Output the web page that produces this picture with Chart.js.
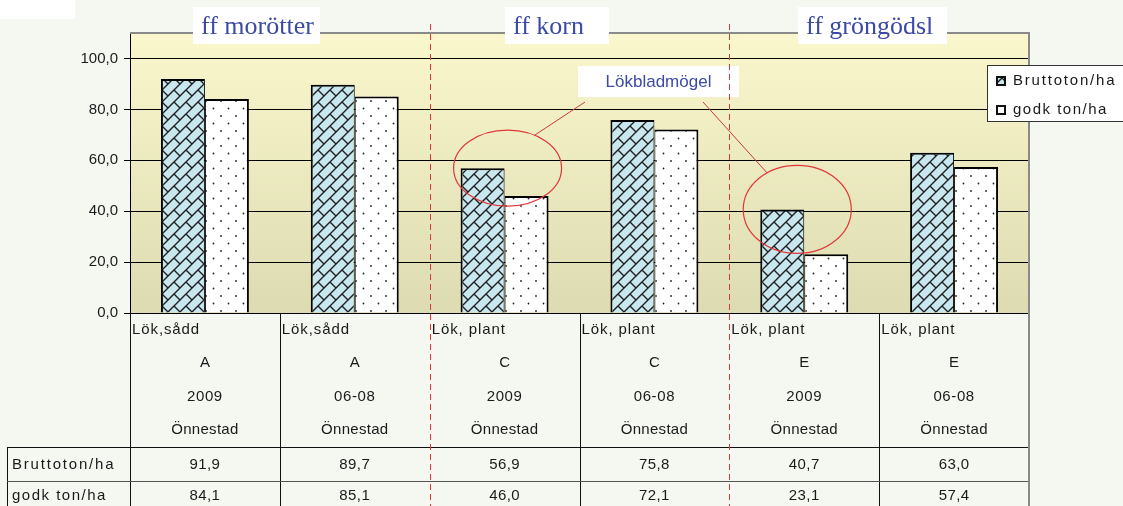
<!DOCTYPE html>
<html>
<head>
<meta charset="utf-8">
<script src="https://cdn.jsdelivr.net/npm/chart.js@4.4.1/dist/chart.umd.min.js"></script>
<style>
  html, body { margin: 0; padding: 0; background: #F4F8F1; }
  #wrap { position: relative; width: 1123px; height: 506px; overflow: hidden; }
  #corner { position: absolute; left: 0; top: 0; width: 75px; height: 19px; background: #fff; }
  canvas { position: absolute; left: 0; top: 0; }
</style>
</head>
<body>
<div id="wrap">
  <div id="corner"></div>
  <canvas id="chart" width="1123" height="506"></canvas>
</div>
<script>
// --- data ---
const cropType = ['Lök,sådd', 'Lök,sådd', 'Lök, plant', 'Lök, plant', 'Lök, plant', 'Lök, plant'];
const trial = ['A', 'A', 'C', 'C', 'E', 'E'];
const period = ['2009', '06-08', '2009', '06-08', '2009', '06-08'];
const site = ['Önnestad', 'Önnestad', 'Önnestad', 'Önnestad', 'Önnestad', 'Önnestad'];
const seriesNames = ['Bruttoton/ha', 'godk ton/ha'];
const brutto = [91.9, 89.7, 56.9, 75.8, 40.7, 63.0];
const godk = [84.1, 85.1, 46.0, 72.1, 23.1, 57.4];
const yTicks = [0, 20, 40, 60, 80, 100];
const groups = ['ff morötter', 'ff korn', 'ff gröngödsl'];
const noteText = 'Lökbladmögel';
const noteBars = [2, 4]; // categories circled by the note

const FONT = '"Liberation Sans", Arial, sans-serif';
const BLUE_TXT = '#3C4AA6';
const RED = '#E0383A';

// --- fill patterns ---
function makeBrick() {
    const c = document.createElement('canvas');
    c.width = 12; c.height = 12;
    const g = c.getContext('2d');
    g.fillStyle = '#C9E7EF';
    g.fillRect(0, 0, 12, 12);
    g.strokeStyle = '#1e1e1e';
    g.lineWidth = 1.4;
    g.beginPath();
    g.moveTo(-2, 14); g.lineTo(14, -2);
    g.moveTo(-2, 2); g.lineTo(2, -2);
    g.moveTo(10, 14); g.lineTo(14, 10);
    g.moveTo(6, 6); g.lineTo(12.5, 12.5);
    g.stroke();
    return g.createPattern(c, 'repeat');
}

function makeDots() {
    const c = document.createElement('canvas');
    c.width = 15; c.height = 15;
    const g = c.getContext('2d');
    g.fillStyle = '#fff';
    g.fillRect(0, 0, 15, 15);
    g.fillStyle = '#222';
    [[3.5, 3.5], [11, 11]].forEach(([x, y]) => {
        g.beginPath(); g.arc(x, y, 0.9, 0, Math.PI * 2); g.fill();
    });
    return g.createPattern(c, 'repeat');
}

const brickFill = makeBrick();
const dotFill = makeDots();

function txt(ctx, s, x, y, align, size, color, spacing) {
    ctx.font = size + 'px ' + FONT;
    ctx.fillStyle = color || '#1a1a1a';
    ctx.textAlign = align;
    ctx.textBaseline = 'middle';
    ctx.letterSpacing = (spacing || 0) + 'px';
    ctx.fillText(s, x, y);
    ctx.letterSpacing = '0px';
}

const decor = {
    id: 'decor',
    beforeDraw(chart) {
        const { ctx, chartArea: a } = chart;
        const grad = ctx.createLinearGradient(0, a.top, 0, a.bottom);
        grad.addColorStop(0, '#FAF7CD');
        grad.addColorStop(1, '#DDDBB1');
        ctx.save();
        ctx.fillStyle = grad;
        ctx.fillRect(a.left, a.top, a.right - a.left, a.bottom - a.top);
        ctx.restore();
    },
    afterDatasetsDraw(chart) {
        // red ellipses around the mildew-hit trials
        const { ctx } = chart;
        const x = chart.scales.x, y = chart.scales.y;
        const shape = [{ dx: 3, rx: 54, ry: 38, ang: -60 }, { dx: -7, rx: 54, ry: 44, ang: -124 }];
        const boxL = 578, boxR = 739, boxT = 66, boxB = 97;
        const from = [[585, boxB + 5], [703, boxB + 5]];
        ctx.save();
        noteBars.forEach((i, k) => {
            const s = shape[k];
            const cx = x.getPixelForValue(i) + s.dx;
            const cy = y.getPixelForValue(brutto[i]);
            ctx.strokeStyle = RED;
            ctx.lineWidth = 1.2;
            ctx.beginPath();
            ctx.ellipse(cx, cy, s.rx, s.ry, 0, 0, Math.PI * 2);
            ctx.stroke();
            const t = s.ang * Math.PI / 180;
            ctx.strokeStyle = '#C83A3C';
            ctx.lineWidth = 1;
            ctx.beginPath();
            ctx.moveTo(from[k][0], from[k][1]);
            ctx.lineTo(cx + s.rx * Math.cos(t), cy + s.ry * Math.sin(t));
            ctx.stroke();
        });
        // note label
        ctx.fillStyle = '#fff';
        ctx.fillRect(boxL, boxT, boxR - boxL, boxB - boxT);
        txt(ctx, noteText, (boxL + boxR) / 2, (boxT + boxB) / 2 + 1, 'center', 17, BLUE_TXT, 0);
        ctx.restore();
    },
    afterDraw(chart) {
        const { ctx, chartArea: a } = chart;
        const x = chart.scales.x;
        const n = cropType.length;
        const colW = (a.right - a.left) / n;
        const H = chart.height;
        const b = a.bottom;
        ctx.save();

        // data table grid
        ctx.strokeStyle = '#111';
        ctx.lineWidth = 1;
        for (let i = 0; i < n; i++) {
            if (i === 2 || i === 4) continue;
            const xx = Math.round(a.left + i * colW) + 0.5;
            ctx.beginPath(); ctx.moveTo(xx, b); ctx.lineTo(xx, H); ctx.stroke();
        }
        ctx.beginPath();
        ctx.moveTo(7.5, b + 134); ctx.lineTo(7.5, H);
        ctx.moveTo(7, b + 134.5); ctx.lineTo(a.right, b + 134.5);
        ctx.stroke();
        ctx.strokeStyle = '#555';
        ctx.beginPath();
        ctx.moveTo(7, b + 168.5); ctx.lineTo(a.right, b + 168.5);
        ctx.stroke();

        // table text
        for (let i = 0; i < n; i++) {
            const cx = x.getPixelForValue(i);
            const left = a.left + i * colW;
            txt(ctx, cropType[i], left + 2, b + 17, 'left', 15, '#1a1a1a', 0.9);
            txt(ctx, trial[i], cx, b + 50, 'center', 15, '#1a1a1a', 0);
            txt(ctx, period[i], cx, b + 84, 'center', 15, '#1a1a1a', 0.6);
            txt(ctx, site[i], cx, b + 117, 'center', 15, '#1a1a1a', 0.3);
            txt(ctx, brutto[i].toFixed(1).replace('.', ','), cx, b + 152, 'center', 15, '#1a1a1a', 0.4);
            txt(ctx, godk[i].toFixed(1).replace('.', ','), cx, b + 183, 'center', 15, '#1a1a1a', 0.4);
        }
        txt(ctx, seriesNames[0], 12, b + 152, 'left', 15, '#1a1a1a', 1.8);
        txt(ctx, seriesNames[1], 12, b + 183, 'left', 15, '#1a1a1a', 1.5);

        // plot frame top + right (runs down through the table)
        ctx.strokeStyle = '#8A8A8A';
        ctx.lineWidth = 2;
        ctx.beginPath();
        ctx.moveTo(a.left, a.top); ctx.lineTo(a.right + 1, a.top);
        ctx.moveTo(a.right, a.top); ctx.lineTo(a.right, H);
        ctx.stroke();

        // dashed group separators
        ctx.strokeStyle = RED;
        ctx.lineWidth = 1;
        ctx.setLineDash([6, 4]);
        [2, 4].forEach(i => {
            const xx = Math.round(a.left + i * colW) + 0.5;
            ctx.beginPath(); ctx.moveTo(xx, 24); ctx.lineTo(xx, H); ctx.stroke();
        });
        ctx.setLineDash([]);

        // group titles
        const titleLeft = [193, 505, 798];
        const titleWidth = [127, 104, 149];
        ctx.font = '26px "Liberation Serif", "Times New Roman", serif';
        groups.forEach((g, k) => {
            ctx.fillStyle = '#fff';
            ctx.fillRect(titleLeft[k], 7, titleWidth[k], 37);
            ctx.fillStyle = BLUE_TXT;
            ctx.textAlign = 'left';
            ctx.textBaseline = 'alphabetic';
            ctx.fillText(g, titleLeft[k] + 8, 34);
        });

        // legend
        ctx.fillStyle = '#fff';
        ctx.fillRect(987, 65, 140, 57);
        ctx.strokeStyle = '#333';
        ctx.lineWidth = 1;
        ctx.strokeRect(987.5, 65.5, 140, 56);
        const fills = [brickFill, dotFill];
        [81, 110].forEach((yy, k) => {
            ctx.fillStyle = '#111';
            ctx.fillRect(996, yy - 5, 10, 10);
            ctx.fillStyle = fills[k];
            ctx.fillRect(998, yy - 3, 6, 6);
            txt(ctx, seriesNames[k], 1013, yy, 'left', 15, '#1a1a1a', k === 0 ? 1.8 : 1.5);
        });
        ctx.restore();
    }
};

new Chart(document.getElementById('chart'), {
    type: 'bar',
    data: {
        labels: trial.map((t, i) => t + ' ' + period[i]),
        datasets: [
            {
                label: seriesNames[0],
                data: brutto,
                backgroundColor: brickFill,
                borderColor: '#000',
                borderWidth: { top: 2, left: 2, right: 1, bottom: 0 },
                categoryPercentage: 0.587,
                barPercentage: 1
            },
            {
                label: seriesNames[1],
                data: godk,
                backgroundColor: dotFill,
                borderColor: '#000',
                borderWidth: { top: 2, left: 1, right: 2, bottom: 0 },
                categoryPercentage: 0.587,
                barPercentage: 1
            }
        ]
    },
    options: {
        responsive: false,
        animation: false,
        devicePixelRatio: 1,
        layout: { padding: { top: 33, right: 94, bottom: 193, left: 0 } },
        plugins: { legend: { display: false }, tooltip: { enabled: false } },
        scales: {
            x: { display: false },
            y: {
                min: 0,
                max: 110,
                afterBuildTicks: s => { s.ticks = yTicks.map(v => ({ value: v })); },
                afterFit: s => { s.width = 130; },
                ticks: {
                    font: { family: FONT, size: 15 },
                    color: '#1a1a1a',
                    padding: 6,
                    callback: v => v.toFixed(1).replace('.', ',')
                },
                grid: { color: '#000', lineWidth: 1, tickLength: 6 },
                border: { color: '#000', width: 1 }
            }
        }
    },
    plugins: [decor]
});
</script>
</body>
</html>
